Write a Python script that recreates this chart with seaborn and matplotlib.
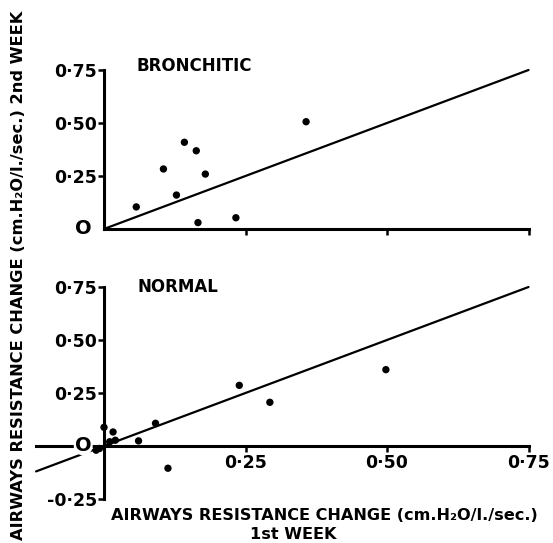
import matplotlib
matplotlib.use("Agg")
import matplotlib.pyplot as plt
import seaborn as sns
import pandas as pd

sns.set_theme(style="white")
plt.rcParams['font.family'] = ['DejaVu Sans']

# Bronchitic group (1st week change, 2nd week change)
bron_x = [0.057, 0.105, 0.128, 0.142, 0.163, 0.179, 0.166, 0.233, 0.357]
bron_y = [0.104, 0.283, 0.160, 0.409, 0.369, 0.259, 0.030, 0.053, 0.506]

# Normal group
norm_x = [0.000, 0.016, 0.010, 0.020, -0.008, -0.014, 0.061, 0.091, 0.113, 0.239, 0.293, 0.498]
norm_y = [0.088, 0.066, 0.020, 0.027, -0.012, -0.020, 0.024, 0.107, -0.105, 0.286, 0.206, 0.360]

# line of identity
top_line_x = [0.0, 0.75]
bot_line_x = [-0.12, 0.75]

y_ticks_top = [0.25, 0.50, 0.75]
y_labels_top = ["0·25", "0·50", "0·75"]
y_ticks_bot = [-0.25, 0.25, 0.50, 0.75]
y_labels_bot = ["-0·25", "0·25", "0·50", "0·75"]
x_ticks = [0.25, 0.50, 0.75]
x_labels = ["0·25", "0·50", "0·75"]

W, H = 553, 543
fig = plt.figure(figsize=(W / 100, H / 100), dpi=100)

XLIM = (-0.125, 0.76)
ax_left = 33.25 / W
ax_w = (534.2 - 33.25) / W

ax1 = fig.add_axes([ax_left, (H - 233.2) / H, ax_w, (233.2 - 59.4) / H])
ax2 = fig.add_axes([ax_left, (H - 503.2) / H, ax_w, (503.2 - 276.4) / H])

lw_axis = 2.2
bold = dict(fontweight="bold", color="black")

def style(ax, ylim, xbounds, ybounds, yt, yl, xt, xl):
    ax.set_xlim(*XLIM)
    ax.set_ylim(*ylim)
    for s in ["top", "right"]:
        ax.spines[s].set_visible(False)
    ax.spines["left"].set_position(("data", 0))
    ax.spines["bottom"].set_position(("data", 0))
    ax.spines["left"].set_bounds(*ybounds)
    ax.spines["bottom"].set_bounds(*xbounds)
    for s in ["left", "bottom"]:
        ax.spines[s].set_linewidth(lw_axis)
        ax.spines[s].set_color("black")
    ax.set_yticks(yt)
    ax.set_yticklabels(yl, fontsize=12.5, fontweight="bold")
    ax.set_xticks(xt)
    ax.set_xticklabels(xl, fontsize=12.5, fontweight="bold")
    ax.tick_params(axis="both", direction="out", length=4, width=1.8,
                   colors="black", pad=1)
    ax.tick_params(axis="x", pad=2)
    ax.tick_params(axis="y", left=True)
    ax.tick_params(axis="x", bottom=True)
    ax.set_xlabel("")
    ax.set_ylabel("")
    ax.set_facecolor("white")
    # large zero label at origin
    ax.text(-0.022, 0, "O", ha="right", va="center", fontsize=14,
            fontweight="bold", color="black",
            bbox=dict(boxstyle="circle,pad=0.0", fc="white", ec="none"),
            zorder=5)

# Top panel
df_b = pd.DataFrame({"x": bron_x, "y": bron_y})
sns.lineplot(x=top_line_x, y=top_line_x, ax=ax1, color="black", lw=1.6)
sns.scatterplot(data=df_b, x="x", y="y", ax=ax1, color="black", s=28,
                edgecolor="none", zorder=4)
style(ax1, (-0.02, 0.8), (0, 0.75), (0, 0.75), y_ticks_top, y_labels_top,
      x_ticks, ["", "", ""])
ax1.text(0.16, 0.77, "BRONCHITIC", ha="center", va="center", fontsize=12, **bold)

# Bottom panel
df_n = pd.DataFrame({"x": norm_x, "y": norm_y})
sns.lineplot(x=bot_line_x, y=bot_line_x, ax=ax2, color="black", lw=1.6)
sns.scatterplot(data=df_n, x="x", y="y", ax=ax2, color="black", s=28,
                edgecolor="none", zorder=4)
style(ax2, (-0.27, 0.8), (-0.12, 0.75), (-0.25, 0.75), y_ticks_bot,
      y_labels_bot, x_ticks, x_labels)
ax2.text(0.13, 0.75, "NORMAL", ha="center", va="center", fontsize=12, **bold)

fig.text(19 / W, 1 - 275 / H,
         "AIRWAYS RESISTANCE CHANGE (cm.H₂O/l./sec.) 2nd WEEK",
         rotation=90, ha="center", va="center", fontsize=11.7, **bold)
fig.text(324 / W, 1 - 516 / H,
         "AIRWAYS RESISTANCE CHANGE (cm.H₂O/l./sec.)",
         ha="center", va="center", fontsize=11.6, **bold)
fig.text(293 / W, 1 - 534.5 / H, "1st WEEK",
         ha="center", va="center", fontsize=11.6, **bold)

fig.savefig("out.png", dpi=100, facecolor="white")
